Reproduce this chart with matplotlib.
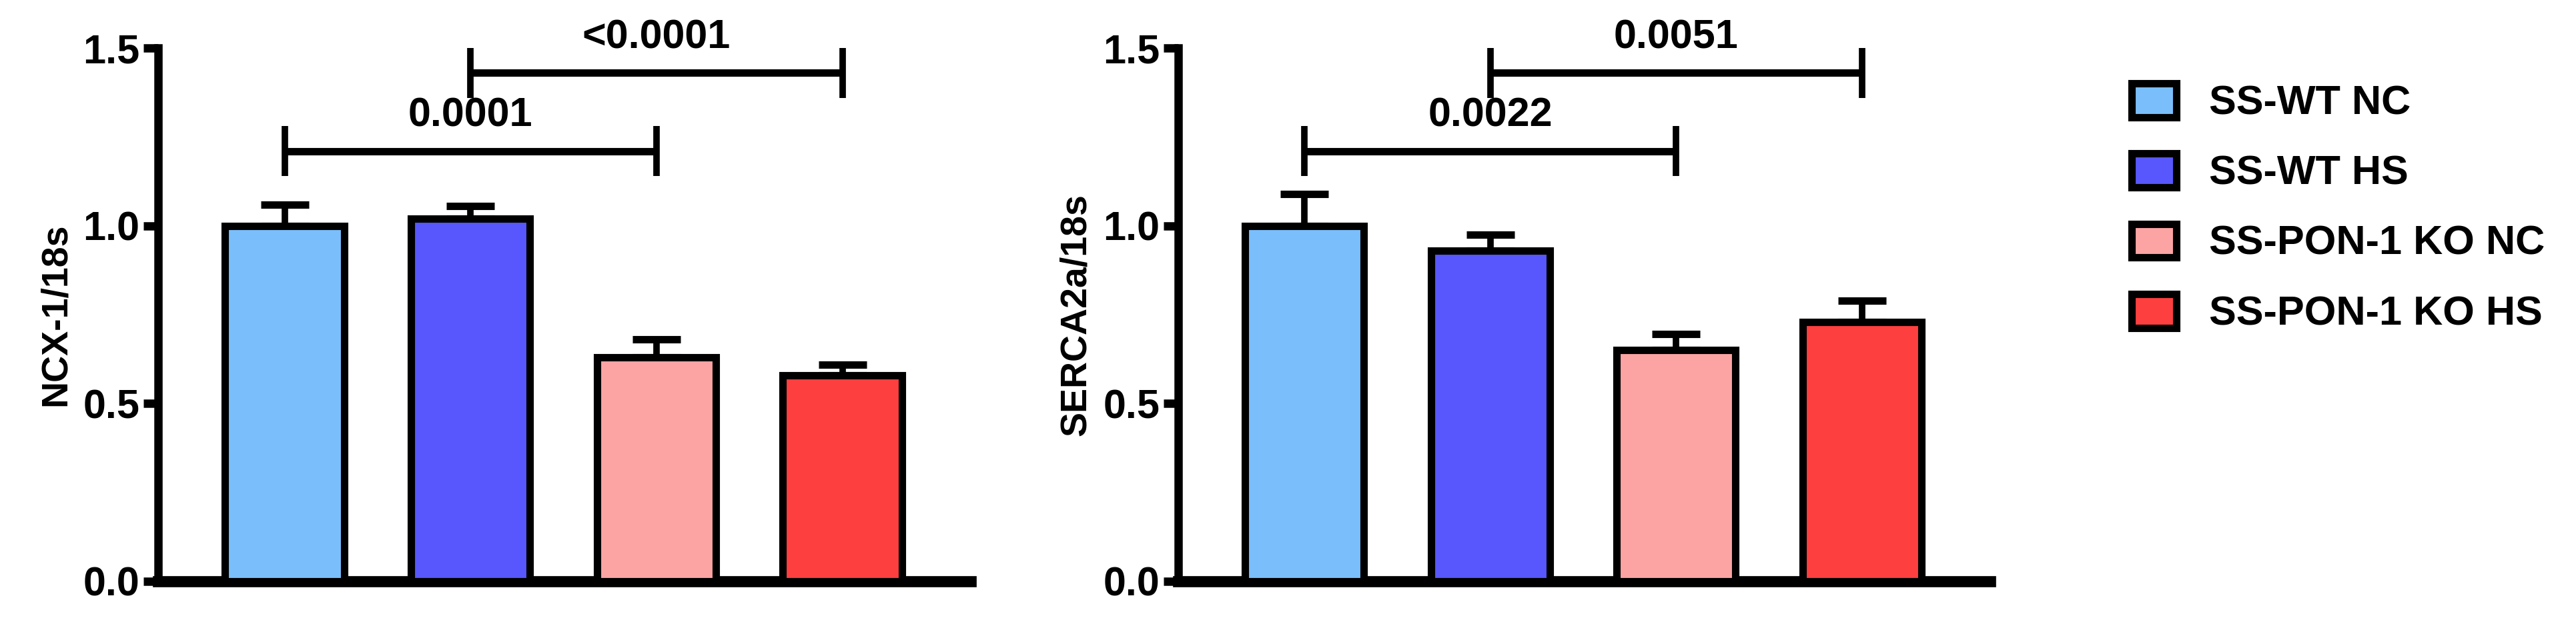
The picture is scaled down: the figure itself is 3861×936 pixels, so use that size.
import matplotlib
matplotlib.use("Agg")
import matplotlib.pyplot as plt
from matplotlib.patches import Patch

plt.rcParams["font.family"] = ["Liberation Sans", "DejaVu Sans"]
plt.rcParams["font.weight"] = "bold"

groups = ["SS-WT NC", "SS-WT HS", "SS-PON-1 KO NC", "SS-PON-1 KO HS"]
colors = ["#7abffc", "#5757fd", "#fca4a4", "#fd3f3f"]

ncx_mean = [1.00, 1.02, 0.63, 0.58]
ncx_err = [0.06, 0.035, 0.05, 0.03]
ncx_pvals = [(0, 2, 1.21, "0.0001"), (1, 3, 1.43, "<0.0001")]

serca_mean = [1.00, 0.93, 0.65, 0.73]
serca_err = [0.09, 0.045, 0.045, 0.06]
serca_pvals = [(0, 2, 1.21, "0.0022"), (1, 3, 1.43, "0.0051")]

W, H = 3862, 936
fig = plt.figure(figsize=(W / 100, H / 100), dpi=100)
fig.patch.set_facecolor("white")

ax_l = fig.add_axes([237 / W, 1 - 872 / H, (1455 - 237) / W, 800 / H])
ax_r = fig.add_axes([1766 / W, 1 - 872 / H, (2983 - 1766) / W, 800 / H])


def draw_panel(ax, means, errs, pvals, ylabel):
    x = range(len(means))
    ax.bar(x, means, width=0.64, color=colors, edgecolor="black",
           linewidth=8, zorder=3)
    ax.errorbar(x, means, yerr=[[0] * len(errs), errs], fmt="none",
                ecolor="black", elinewidth=7, capsize=26, capthick=8, zorder=2)
    for i, j, y, txt in pvals:
        ax.plot([i, j], [y, y], color="black", lw=8, solid_capstyle="butt")
        for k in (i, j):
            ax.plot([k, k], [y - 0.07, y + 0.07], color="black", lw=7,
                    solid_capstyle="butt")
        ax.text((i + j) / 2, y + 0.045, txt, ha="center", va="bottom",
                fontsize=44, fontweight="bold")
    ax.set_xlim(-0.68, 3.69)
    ax.set_ylim(0, 1.5)
    ax.set_yticks([0, 0.5, 1.0, 1.5])
    ax.set_yticklabels(["0.0", "0.5", "1.0", "1.5"])
    ax.set_xticks([])
    for s in ("top", "right"):
        ax.spines[s].set_visible(False)
    ax.spines["left"].set_linewidth(9)
    ax.spines["bottom"].set_linewidth(12)
    ax.tick_params(axis="y", width=9, length=16, labelsize=44, pad=4)
    ax.set_ylabel(ylabel, fontsize=40, fontweight="bold", labelpad=10)
    ax.patch.set_alpha(0)


draw_panel(ax_l, ncx_mean, ncx_err, ncx_pvals, "NCX-1/18s")
draw_panel(ax_r, serca_mean, serca_err, serca_pvals, "SERCA2a/18s")

handles = [Patch(facecolor=c, edgecolor="black", linewidth=8) for c in colors]
fig.legend(handles, groups, loc="upper left", bbox_to_anchor=(3140 / W, 1 - 70 / H),
           frameon=False, handlelength=1.1, handleheight=0.9,
           labelspacing=0.75, handletextpad=0.8, prop={"weight": "bold", "size": 44})

fig.savefig("out.png", dpi=100, facecolor="white")
plt.close(fig)
